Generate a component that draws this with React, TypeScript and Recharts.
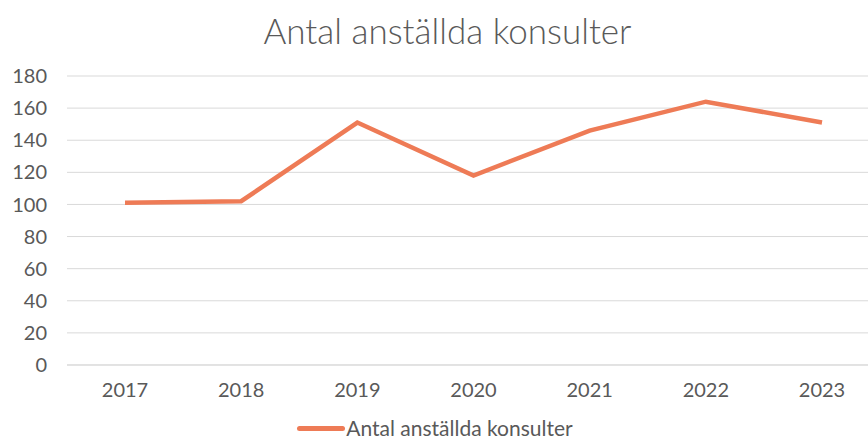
import React from "react";
import { LineChart, Line, XAxis, YAxis, CartesianGrid, Legend } from "recharts";

const YEARS = ["2017", "2018", "2019", "2020", "2021", "2022", "2023"];
const CONSULTANTS = [101, 102, 151, 118, 146, 164, 151];
const Y_TICKS = [0, 20, 40, 60, 80, 100, 120, 140, 160, 180];
const SERIES_NAME = "Antal anställda konsulter";

const LINE_COLOR = "#EE7B56";
const TEXT_COLOR = "#595959";
const FONT = "Lato, 'Open Sans', sans-serif";

const data = YEARS.map((year, i) => ({ year, value: CONSULTANTS[i] }));

const LegendContent = ({ payload }: any) => (
  <div
    style={{
      display: "flex",
      justifyContent: "center",
      alignItems: "center",
      paddingTop: 6,
      paddingRight: 10,
      fontFamily: FONT,
      color: TEXT_COLOR,
      fontSize: 21,
      lineHeight: "24px",
    }}
  >
    {(payload || []).map((p: any) => (
      <div key={p.value} style={{ display: "flex", alignItems: "center" }}>
        <span style={{ display: "inline-block", width: 48, height: 5, borderRadius: 3, background: p.color }} />
        <span style={{ marginLeft: 1 }}>{p.value}</span>
      </div>
    ))}
  </div>
);

const App = () => {
  return (
    <div style={{ position: "absolute", left: 0, top: 0, width: 868, height: 443, overflow: "hidden", background: "#fff" }}>
      <div
        style={{
          position: "absolute",
          top: 9,
          left: 0,
          width: 895,
          textAlign: "center",
          fontFamily: FONT,
          fontWeight: 300,
          fontSize: 35,
          color: TEXT_COLOR,
        }}
      >
        {SERIES_NAME}
      </div>
      <LineChart width={880} height={443} data={data} margin={{ top: 76, right: 0, left: 0, bottom: 2 }}>
        <CartesianGrid vertical={false} stroke="#d9d9d9" />
        <XAxis
          dataKey="year"
          height={45}
          padding={{ left: 58, right: 58 }}
          axisLine={{ stroke: "#d9d9d9" }}
          tickLine={false}
          tickMargin={12}
          tick={{ fill: TEXT_COLOR, fontSize: 20, fontFamily: FONT }}
        />
        <YAxis
          width={67}
          domain={[0, 180]}
          ticks={Y_TICKS}
          axisLine={false}
          tickLine={false}
          tickMargin={14}
          tick={{ fill: TEXT_COLOR, fontSize: 20, fontFamily: FONT }}
        />
        <Legend verticalAlign="bottom" height={31} content={<LegendContent />} />
        <Line
          type="linear"
          dataKey="value"
          name={SERIES_NAME}
          stroke={LINE_COLOR}
          strokeWidth={4.5}
          dot={false}
          isAnimationActive={false}
        />
      </LineChart>
    </div>
  );
};

export default App;
